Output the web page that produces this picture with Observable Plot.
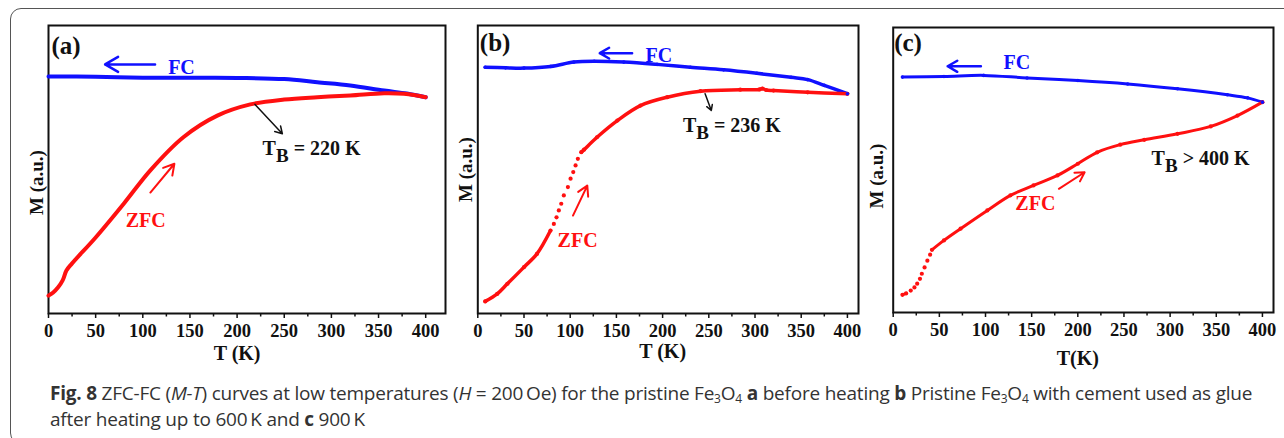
<!DOCTYPE html>
<html>
<head>
<meta charset="utf-8">
<script src="https://cdn.jsdelivr.net/npm/d3@7"></script>
<script src="https://cdn.jsdelivr.net/npm/@observablehq/plot@0.6"></script>
<style>
  html, body { margin: 0; padding: 0; background: #fff; }
  #root { position: relative; width: 1284px; height: 438px; overflow: hidden; background: #fff; }
  #box { position: absolute; left: 10px; top: 8px; width: 1300px; height: 436px; border: 1.5px solid #555; border-radius: 11px; box-sizing: border-box; }
  .panel { position: absolute; top: 0; }
  .panel svg { overflow: visible; background: transparent !important; }
  #caption { position: absolute; left: 50px; top: 380px; width: 1230px; font-family: "Open Sans", sans-serif; font-size: 19px; line-height: 26px; color: #333; letter-spacing: -0.22px; white-space: nowrap; }
  #caption sub { font-size: 12px; vertical-align: -3px; line-height: 0; }
</style>
</head>
<body>
<div id="root">
  <div id="box"></div>
  <div id="pa" class="panel" style="left:0px"></div>
  <div id="pb" class="panel" style="left:450px"></div>
  <div id="pc" class="panel" style="left:860px"></div>
  <div id="caption"><b>Fig. 8</b> ZFC-FC (<i>M-T</i>) curves at low temperatures (<i>H</i> = 200&#8201;Oe) for the pristine Fe<sub>3</sub>O<sub>4</sub> <b>a</b> before heating <b>b</b> Pristine Fe<sub>3</sub>O<sub>4</sub> with cement used as glue<br>after heating up to 600&#8201;K and <b>c</b> 900&#8201;K</div>
</div>
<script>
// ---- Data: [T (K), M (a.u., relative)] ----
const fcA  = [[0,82.3],[50,82.2],[100,81.9],[150,81.9],[200,81.8],[250,81.4],[285,80.3],[320,79.2],[356,77.4],[380,76.4],[400,75.1]];
const zfcA = [[0,6.2],[5,7.3],[10,9.0],[15,11.5],[19,14.9],[25,17.4],[50,26.4],[80,38.2],[108,49.7],[143,61.2],[179,68.7],[214,72.6],[250,74.3],[285,75.1],[320,75.7],[356,76.5],[377,76.3],[400,75.1]];

const fcB  = [[8,85.5],[30,85.3],[50,85.2],[79,85.8],[104,87.3],[126,87.6],[158,87.3],[194,86.5],[230,85.5],[266,84.6],[302,83.4],[339,82.0],[357,81.2],[375,79.2],[400,76.3]];
const zfcB = [[8,4.2],[21,6.8],[32,10.3],[50,16.1],[64,20.7],[78.7,28.8],[82.3,31.1],[85.2,33.4],[87.7,35.8],[90.3,38.1],[93.1,41.0],[97.5,43.9],[100.4,46.8],[103.3,49.1],[105.8,51.4],[108.3,53.7],[112,56.0],[115,56.9],[129,61.2],[151,67.0],[176,72.2],[205,75.1],[241,77.2],[284,77.7],[305,77.8],[308,78.1],[312,77.6],[320,77.4],[357,76.8],[400,76.3]];

const fcC  = [[10,82.6],[55,82.8],[98,83.2],[145,82.3],[200,81.4],[254,80.2],[308,78.5],[362,76.4],[384,75.3],[400,73.8]];
const zfcC = [[10,6.2],[14,6.7],[19,7.7],[23,8.8],[26,10.1],[29,11.8],[31,13.6],[34,15.8],[37,18.2],[40,20.3],[42,22.0],[55,25.3],[73,29.4],[102,35.8],[127,41.1],[152,44.6],[178,48.1],[200,52.2],[221,56.2],[246,58.9],[272,60.6],[308,62.7],[344,65.3],[373,69.1],[400,73.8]];

const xTicks = [0, 50, 100, 150, 200, 250, 300, 350, 400];
const xMinor = [25, 75, 125, 175, 225, 275, 325, 375];
const panelLabels = ["(a)", "(b)", "(c)"];
const tbLabels = ["T_B = 220 K", "T_B = 236 K", "T_B > 400 K"];
const xTitles = ["T (K)", "T (K)", "T(K)"];

// annotation anchors (data units)
const fcTextPos  = [[141,85.4],[196,89.7],[134,87.8]];
const fcArrow    = [[113,86.5,60,86.5],[167,90.4,132,90.4],[95,86.4,59,86.4]];
const zfcTextPos = [[103,32.3],[108,25.3],[154,38.1]];
const zfcArrow   = [[108,42,133.5,52],[103,34,118.5,44.4],[179.5,43.4,207.4,49.2]];
const tbTextPos  = [[279,57.3],[275,65.3],[333,53.9]];
const tbArrow    = [[219,72.6,248,62.4],[246,76.3,252.7,70.5],null];
// temperature gaps where the measured points are spread out (drawn as dots only)
const sparseRanges = [null, [79, 112], [14, 42]];

const SERIF = "'Liberation Serif', 'Times New Roman', serif";

function panel(i, cfg) {
  const gap = sparseRanges[i];
  const lineMarks = [];
  if (gap) {
    lineMarks.push(
      Plot.line(cfg.fc, {x: "0", y: "1", stroke: "#1010ff", strokeWidth: cfg.sw, curve: "catmull-rom"}),
      Plot.line(cfg.zfc.filter(d => d[0] <= gap[0]), {x: "0", y: "1", stroke: "#ff1010", strokeWidth: cfg.sw, curve: "catmull-rom"}),
      Plot.line(cfg.zfc.filter(d => d[0] >= gap[1]), {x: "0", y: "1", stroke: "#ff1010", strokeWidth: cfg.sw, curve: "catmull-rom"}),
      Plot.dot(cfg.zfc, {x: "0", y: "1", r: 2.1, fill: "#ff1010"}),
      Plot.dot(cfg.fc, {x: "0", y: "1", r: 1.8, fill: "#1010ff"})
    );
  } else {
    lineMarks.push(
      Plot.line(cfg.fc, {x: "0", y: "1", stroke: "#1010ff", strokeWidth: cfg.sw, curve: "catmull-rom"}),
      Plot.line(cfg.zfc, {x: "0", y: "1", stroke: "#ff1010", strokeWidth: cfg.sw, curve: "catmull-rom"})
    );
  }
  const marks = [
    Plot.frame({stroke: "#111", strokeWidth: 2}),
    Plot.axisX({ticks: xTicks, tickSize: 5, tickPadding: 5, strokeWidth: 1.5, fontSize: 18.5, fontWeight: "bold", label: null, tickFormat: d => String(d)}),
    Plot.axisX({ticks: xMinor, tickSize: 3.5, strokeWidth: 1.5, tickFormat: () => "", label: null}),
    ...lineMarks,
    Plot.text([panelLabels[i]], {frameAnchor: "top-left", dx: cfg.labDx, dy: cfg.labDy, textAnchor: "start", lineAnchor: "middle", fontSize: 25, fontWeight: "bold", fill: "#111"}),
    Plot.text([fcTextPos[i]], {x: "0", y: "1", text: () => "FC", fontSize: 20, fontWeight: "bold", fill: "#1010ff"}),
    Plot.arrow([fcArrow[i]], {x1: "0", y1: "1", x2: "2", y2: "3", stroke: "#1010ff", strokeWidth: 2.5, headLength: 9}),
    Plot.text([zfcTextPos[i]], {x: "0", y: "1", text: () => "ZFC", fontSize: 20, fontWeight: "bold", fill: "#ff1010"}),
    Plot.arrow([zfcArrow[i]], {x1: "0", y1: "1", x2: "2", y2: "3", stroke: "#ff1010", strokeWidth: 2, headLength: 9}),
    Plot.text([tbTextPos[i]], {x: "0", y: "1", text: () => tbLabels[i], fontSize: 20, fontWeight: "bold", fill: "#111"}),
    Plot.text([xTitles[i]], {frameAnchor: "bottom", x: () => 200, dy: cfg.xtDy, textAnchor: "middle", lineAnchor: "middle", fontSize: 20, fontWeight: "bold", fill: "#111"}),
    Plot.text(["M (a.u.)"], {frameAnchor: "left", dx: cfg.ylDx, dy: cfg.ylDy, rotate: -90, textAnchor: "middle", lineAnchor: "middle", fontSize: 19, fontWeight: "bold", fill: "#111"})
  ];
  if (tbArrow[i]) marks.push(Plot.arrow([tbArrow[i]], {x1: "0", y1: "1", x2: "2", y2: "3", stroke: "#111", strokeWidth: 1.5, headLength: 8}));

  const p = Plot.plot({
    width: cfg.width, height: 370,
    marginLeft: cfg.ml, marginRight: cfg.mr, marginTop: cfg.mt, marginBottom: 370 - cfg.bottom,
    x: {domain: [0, cfg.xmax]},
    y: {domain: [0, 100], axis: null},
    style: {fontFamily: SERIF, color: "#111", background: "transparent"},
    marks
  });
  const ns = "http://www.w3.org/2000/svg";
  p.querySelectorAll("text").forEach(t => {
    const s = t.textContent;
    if (/^\d+$/.test(s)) { t.style.fontSize = "18.5px"; t.style.fontWeight = "bold"; }
    if (s.startsWith("T_B")) {
      const rest = s.slice(3);
      while (t.firstChild) t.removeChild(t.firstChild);
      const a = document.createElementNS(ns, "tspan"); a.textContent = "T";
      const b = document.createElementNS(ns, "tspan"); b.textContent = "B"; b.setAttribute("dy", "7"); b.setAttribute("font-size", "19");
      const c = document.createElementNS(ns, "tspan"); c.textContent = rest; c.setAttribute("dy", "-7");
      t.append(a, b, c);
    }
  });
  return p;
}

document.getElementById("pa").append(panel(0, {fc: fcA, zfc: zfcA, sw: 4, width: 460, ml: 48, mr: 15, mt: 25, bottom: 313, xmax: 421, labDx: 3, labDy: 20, xtDy: 40, ylDx: -12, ylDy: 13}));
document.getElementById("pb").append(panel(1, {fc: fcB, zfc: zfcB, sw: 3.5, width: 420, ml: 27.3, mr: 12, mt: 25, bottom: 313, xmax: 412, labDx: 2, labDy: 17, xtDy: 38, ylDx: -12, ylDy: 0}));
document.getElementById("pc").append(panel(2, {fc: fcC, zfc: zfcC, sw: 3, width: 424, ml: 32.7, mr: 11, mt: 27, bottom: 312, xmax: 412, labDx: 1, labDy: 15, xtDy: 46, ylDx: -16, ylDy: 6}));
</script>
</body>
</html>
